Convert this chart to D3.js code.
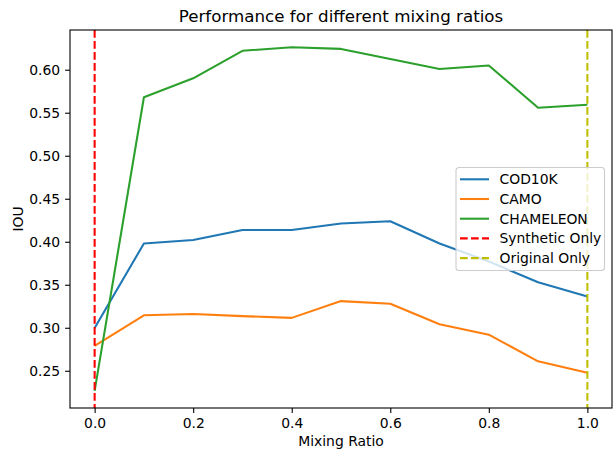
<!DOCTYPE html>
<html>
<head>
<meta charset="utf-8">
<script src="https://cdn.jsdelivr.net/npm/d3@7"></script>
<style>
  body { margin: 0; background: #fff; }
  svg text { font-family: "DejaVu Sans", sans-serif; fill: #000; }
</style>
</head>
<body>
<div id="chart"></div>
<script>
// data
let ratios = [0.0, 0.1, 0.2, 0.3, 0.4, 0.5, 0.6, 0.7, 0.8, 0.9, 1.0];
let cod10k = [0.2997, 0.398, 0.402, 0.4137, 0.4137, 0.4212, 0.4238, 0.398, 0.377, 0.353, 0.3364];
let camo = [0.279, 0.3145, 0.316, 0.3135, 0.3115, 0.331, 0.328, 0.304, 0.292, 0.261, 0.2477];
let chameleon = [0.2267, 0.568, 0.590, 0.622, 0.6262, 0.6242, 0.6125, 0.6008, 0.605, 0.5558, 0.5592];
let seriesNames = ["COD10K", "CAMO", "CHAMELEON"];
let seriesColors = ["#1f77b4", "#ff7f0e", "#2ca02c"];
let refLines = [
  { name: "Synthetic Only", x: 0.0, color: "#ff0000" },
  { name: "Original Only", x: 1.0, color: "#bfbf00" },
];
let xTicks = [0.0, 0.2, 0.4, 0.6, 0.8, 1.0];
let yTicks = [0.25, 0.3, 0.35, 0.4, 0.45, 0.5, 0.55, 0.6];

let draw = () => {
  var W = 616,
    H = 449,
    margin = { top: 30, right: 4, bottom: 41, left: 70 },
    width = W - margin.left - margin.right,
    height = H - margin.top - margin.bottom;

  var svg = d3
    .select("#chart")
    .append("svg")
    .attr("width", W)
    .attr("height", H);

  var g = svg
    .append("g")
    .attr("transform", `translate(${margin.left}, ${margin.top})`);

  var allVals = cod10k.concat(camo, chameleon),
    yMin = d3.min(allVals),
    yMax = d3.max(allVals),
    yPad = (yMax - yMin) * 0.05;

  var Xaxis = d3.scaleLinear().range([0, width]).domain([-0.05, 1.05]),
    Yaxis = d3
      .scaleLinear()
      .range([height, 0])
      .domain([yMin - yPad, yMax + yPad]);

  // axes
  var xa = g
    .append("g")
    .attr("transform", `translate(0, ${height})`)
    .call(
      d3
        .axisBottom(Xaxis)
        .tickValues(xTicks)
        .tickFormat(d3.format(".1f"))
        .tickSize(4.9)
        .tickPadding(4.9)
    );
  var ya = g.append("g").call(
    d3
      .axisLeft(Yaxis)
      .tickValues(yTicks)
      .tickFormat(d3.format(".2f"))
      .tickSize(4.9)
      .tickPadding(4.9)
  );
  [xa, ya].forEach((a) => {
    a.select(".domain").remove();
    a.selectAll("line").attr("stroke", "#000").attr("stroke-width", 1.1);
    a.selectAll("text")
      .style("font-family", "DejaVu Sans")
      .style("font-size", "13.9px");
  });

  // series lines
  var Line = d3
    .line()
    .x((d, i) => Xaxis(ratios[i]))
    .y((d) => Yaxis(d));

  [cod10k, camo, chameleon].forEach((s, i) => {
    g.append("path")
      .attr("d", Line(s))
      .attr("fill", "none")
      .attr("stroke", seriesColors[i])
      .attr("stroke-width", 2.08)
      .attr("stroke-linejoin", "round");
  });

  // reference lines
  refLines.forEach((r) => {
    g.append("line")
      .attr("x1", Xaxis(r.x))
      .attr("x2", Xaxis(r.x))
      .attr("y1", 0)
      .attr("y2", height)
      .attr("stroke", r.color)
      .attr("stroke-width", 2.08)
      .attr("stroke-dasharray", "7.7,3.3");
  });

  // frame
  g.append("rect")
    .attr("width", width)
    .attr("height", height)
    .attr("fill", "none")
    .attr("stroke", "#000")
    .attr("stroke-width", 1.1);

  // legend
  var legend = g
    .append("g")
    .attr("transform", `translate(${456 - margin.left}, ${167.5 - margin.top})`);
  legend
    .append("rect")
    .attr("width", 148.5)
    .attr("height", 103)
    .attr("rx", 3)
    .attr("fill", "#fff")
    .attr("fill-opacity", 0.8)
    .attr("stroke", "#cccccc")
    .attr("stroke-width", 1.1);

  var items = seriesNames
    .map((n, i) => ({ name: n, color: seriesColors[i], dash: null }))
    .concat(refLines.map((r) => ({ name: r.name, color: r.color, dash: "7.7,3.3" })));

  items.forEach((d, i) => {
    var yy = 11.8 + i * 19.7;
    legend
      .append("line")
      .attr("x1", 4)
      .attr("x2", 33)
      .attr("y1", yy)
      .attr("y2", yy)
      .attr("stroke", d.color)
      .attr("stroke-width", 2.08)
      .attr("stroke-dasharray", d.dash);
    legend
      .append("text")
      .attr("x", 43.5)
      .attr("y", yy + 5)
      .style("font-size", "13.9px")
      .text(d.name);
  });

  // title and labels
  svg
    .append("text")
    .attr("x", margin.left + width / 2)
    .attr("y", 22)
    .attr("text-anchor", "middle")
    .style("font-size", "16.7px")
    .text("Performance for different mixing ratios");

  svg
    .append("text")
    .attr("x", margin.left + width / 2)
    .attr("y", 446)
    .attr("text-anchor", "middle")
    .style("font-size", "13.9px")
    .text("Mixing Ratio");

  svg
    .append("text")
    .attr("transform", `translate(23, ${margin.top + height / 2}) rotate(-90)`)
    .attr("text-anchor", "middle")
    .style("font-size", "13.9px")
    .text("IOU");
};

draw();
</script>
</body>
</html>
